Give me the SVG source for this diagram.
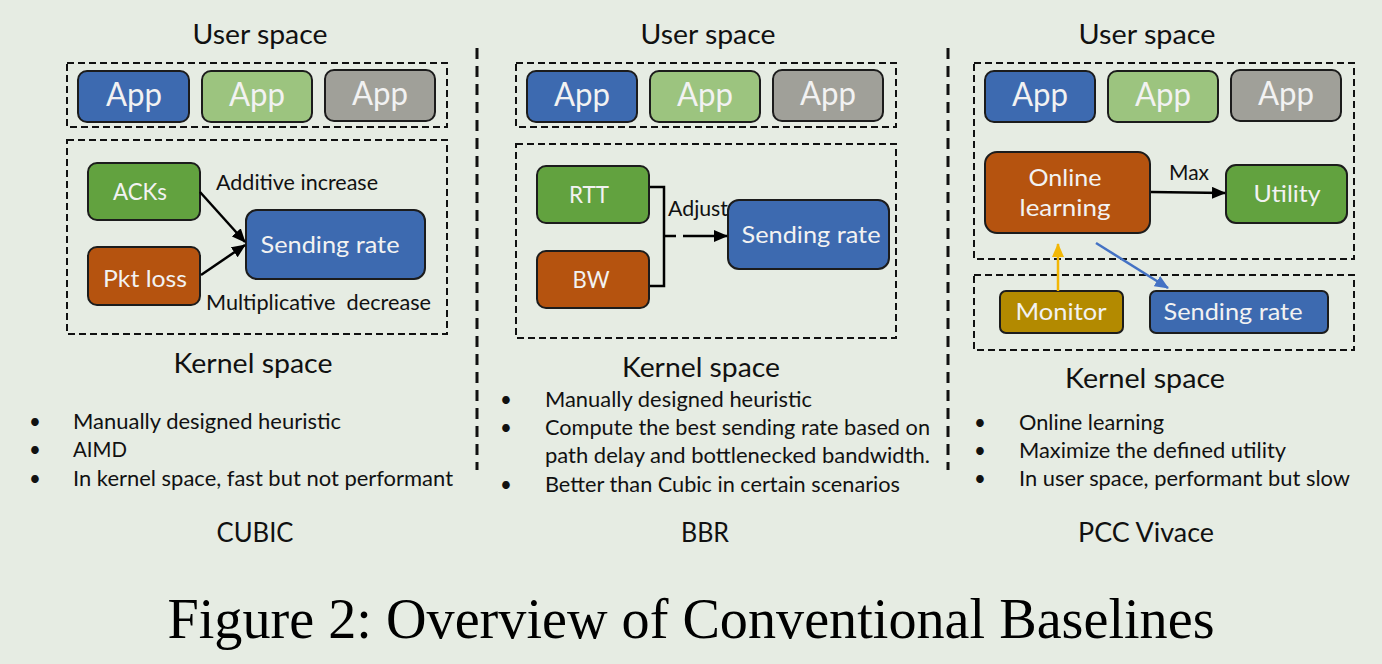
<svg xmlns="http://www.w3.org/2000/svg" width="1382" height="664" viewBox="0 0 1382 664">
<defs>
<style>
text{font-family:"Lato","Open Sans","Liberation Sans",sans-serif;}
.t{fill:#111;font-size:20.5px;}
.h{fill:#111;font-size:26px;text-anchor:middle;}
.n{fill:#f2f2f2;font-size:24px;text-anchor:middle;}
.app{fill:#f2f2f2;font-size:32px;text-anchor:middle;}
.box{stroke:#1c1c1c;stroke-width:2;}
.dash{fill:none;stroke:#111;stroke-width:2;stroke-dasharray:7,4;}
.div{fill:none;stroke:#111;stroke-width:3;stroke-dasharray:11,7;}
.blue{fill:#3D6AB0;}
.green{fill:#62A23F;}
.lgreen{fill:#9CC47F;}
.gray{fill:#A0A099;}
.orange{fill:#B5530F;}
.gold{fill:#B38A00;}
.arr{fill:none;stroke:#000;stroke-width:2.5;}
</style>
<marker id="ak" markerUnits="userSpaceOnUse" markerWidth="14" markerHeight="12" refX="13" refY="6" orient="auto"><path d="M0,0 L14,6 L0,12 z" fill="#000"/></marker>
<marker id="ay" markerUnits="userSpaceOnUse" markerWidth="14" markerHeight="12" refX="13" refY="6" orient="auto"><path d="M0,0 L14,6 L0,12 z" fill="#F2B705"/></marker>
<marker id="ab" markerUnits="userSpaceOnUse" markerWidth="14" markerHeight="12" refX="13" refY="6" orient="auto"><path d="M0,0 L14,6 L0,12 z" fill="#4472C4"/></marker>
</defs>
<rect width="1382" height="664" fill="#E6ECE3"/>

<g id="dividers">
<line class="div" x1="477" y1="48" x2="477" y2="470"/>
<line class="div" x1="948" y1="48" x2="948" y2="470"/>
</g>

<!-- CUBIC -->
<g id="cubic-frames">
<text class="h" x="260" y="44" textLength="135" lengthAdjust="spacingAndGlyphs">User space</text>
<rect class="dash" x="67" y="63" width="380" height="64"/>
<rect class="dash" x="67" y="140" width="380" height="194"/>
<text class="h" x="253" y="373" textLength="159" lengthAdjust="spacingAndGlyphs">Kernel space</text>
</g>
<g id="cubic-app1"><rect class="box blue" x="78" y="71" width="111" height="51" rx="9"/><text class="app" x="134" y="106" textLength="56" lengthAdjust="spacingAndGlyphs">App</text></g>
<g id="cubic-app2"><rect class="box lgreen" x="202" y="71" width="110" height="51" rx="9"/><text class="app" x="257" y="106" textLength="56" lengthAdjust="spacingAndGlyphs">App</text></g>
<g id="cubic-app3"><rect class="box gray" x="325" y="70" width="110" height="51" rx="9"/><text class="app" x="380" y="105" textLength="56" lengthAdjust="spacingAndGlyphs">App</text></g>
<g id="cubic-acks"><rect class="box green" x="88" y="163" width="112" height="57" rx="9"/><text class="n" x="140" y="200" textLength="54" lengthAdjust="spacingAndGlyphs">ACKs</text></g>
<g id="cubic-pktloss"><rect class="box orange" x="88" y="247" width="112" height="58" rx="9"/><text class="n" x="145" y="287" textLength="84" lengthAdjust="spacingAndGlyphs">Pkt loss</text></g>
<g id="cubic-rate"><rect class="box blue" x="246" y="210" width="179" height="69" rx="11"/><text class="n" x="330" y="253" textLength="139" lengthAdjust="spacingAndGlyphs">Sending rate</text></g>
<g id="cubic-connectors">
<line class="arr" x1="200" y1="192" x2="245" y2="242" marker-end="url(#ak)"/>
<line class="arr" x1="201" y1="275" x2="245" y2="245" marker-end="url(#ak)"/>
<text class="t" x="216" y="190" textLength="162" lengthAdjust="spacingAndGlyphs">Additive increase</text>
<text class="t" x="206" y="310" style="white-space:pre" textLength="225" lengthAdjust="spacingAndGlyphs">Multiplicative  decrease</text>
</g>
<g id="cubic-notes">
<text class="t" x="29" y="429">•</text><text class="t" x="73" y="429" textLength="268" lengthAdjust="spacingAndGlyphs">Manually designed heuristic</text>
<text class="t" x="29" y="457">•</text><text class="t" x="73" y="457" textLength="54" lengthAdjust="spacingAndGlyphs">AIMD</text>
<text class="t" x="29" y="486">•</text><text class="t" x="73" y="486" textLength="380" lengthAdjust="spacingAndGlyphs">In kernel space, fast but not performant</text>
<text class="h" x="255" y="542" textLength="77" lengthAdjust="spacingAndGlyphs">CUBIC</text>
</g>

<!-- BBR -->
<g id="bbr-frames">
<text class="h" x="708" y="44" textLength="135" lengthAdjust="spacingAndGlyphs">User space</text>
<rect class="dash" x="516" y="63" width="380" height="64"/>
<rect class="dash" x="516" y="144" width="380" height="194"/>
<text class="h" x="701" y="377" textLength="158" lengthAdjust="spacingAndGlyphs">Kernel space</text>
</g>
<g id="bbr-app1"><rect class="box blue" x="527" y="71" width="110" height="51" rx="9"/><text class="app" x="582" y="106" textLength="56" lengthAdjust="spacingAndGlyphs">App</text></g>
<g id="bbr-app2"><rect class="box lgreen" x="650" y="71" width="110" height="51" rx="9"/><text class="app" x="705" y="106" textLength="56" lengthAdjust="spacingAndGlyphs">App</text></g>
<g id="bbr-app3"><rect class="box gray" x="773" y="70" width="110" height="51" rx="9"/><text class="app" x="828" y="105" textLength="56" lengthAdjust="spacingAndGlyphs">App</text></g>
<g id="bbr-rtt"><rect class="box green" x="537" y="166" width="112" height="57" rx="9"/><text class="n" x="589" y="203" textLength="40" lengthAdjust="spacingAndGlyphs">RTT</text></g>
<g id="bbr-bw"><rect class="box orange" x="537" y="251" width="112" height="57" rx="9"/><text class="n" x="591" y="288" textLength="37" lengthAdjust="spacingAndGlyphs">BW</text></g>
<g id="bbr-rate"><rect class="box blue" x="728" y="200" width="161" height="69" rx="11"/><text class="n" x="811" y="243" textLength="139" lengthAdjust="spacingAndGlyphs">Sending rate</text></g>
<g id="bbr-connectors">
<path class="arr" d="M650,187 H664 V286 H650 M664,236 H676"/>
<line class="arr" x1="683" y1="236" x2="727" y2="236" marker-end="url(#ak)"/>
<text class="t" x="668" y="216" textLength="60" lengthAdjust="spacingAndGlyphs">Adjust</text>
</g>
<g id="bbr-notes">
<text class="t" x="500" y="407">•</text><text class="t" x="545" y="407" textLength="267" lengthAdjust="spacingAndGlyphs">Manually designed heuristic</text>
<text class="t" x="500" y="435">•</text><text class="t" x="545" y="435" textLength="385" lengthAdjust="spacingAndGlyphs">Compute the best sending rate based on</text>
<text class="t" x="545" y="463" textLength="385" lengthAdjust="spacingAndGlyphs">path delay and bottlenecked bandwidth.</text>
<text class="t" x="500" y="492">•</text><text class="t" x="545" y="492" textLength="355" lengthAdjust="spacingAndGlyphs">Better than Cubic in certain scenarios</text>
<text class="h" x="705" y="542" textLength="48" lengthAdjust="spacingAndGlyphs">BBR</text>
</g>

<!-- PCC Vivace -->
<g id="pcc-frames">
<text class="h" x="1147" y="44" textLength="137" lengthAdjust="spacingAndGlyphs">User space</text>
<rect class="dash" x="974" y="63" width="380" height="196"/>
<rect class="dash" x="974" y="275" width="380" height="75"/>
<text class="h" x="1145" y="388" textLength="160" lengthAdjust="spacingAndGlyphs">Kernel space</text>
</g>
<g id="pcc-app1"><rect class="box blue" x="985" y="71" width="110" height="51" rx="9"/><text class="app" x="1040" y="106" textLength="56" lengthAdjust="spacingAndGlyphs">App</text></g>
<g id="pcc-app2"><rect class="box lgreen" x="1108" y="71" width="110" height="51" rx="9"/><text class="app" x="1163" y="106" textLength="56" lengthAdjust="spacingAndGlyphs">App</text></g>
<g id="pcc-app3"><rect class="box gray" x="1231" y="70" width="110" height="51" rx="9"/><text class="app" x="1286" y="105" textLength="56" lengthAdjust="spacingAndGlyphs">App</text></g>
<g id="pcc-online"><rect class="box orange" x="985" y="152" width="165" height="81" rx="12"/><text class="n" x="1065" y="186" textLength="73" lengthAdjust="spacingAndGlyphs">Online</text><text class="n" x="1065" y="216" textLength="91" lengthAdjust="spacingAndGlyphs">learning</text></g>
<g id="pcc-utility"><rect class="box green" x="1226" y="165" width="121" height="58" rx="10"/><text class="n" x="1287" y="202" textLength="67" lengthAdjust="spacingAndGlyphs">Utility</text></g>
<g id="pcc-monitor"><rect class="box gold" x="1000" y="291" width="123" height="42" rx="6"/><text class="n" x="1061" y="320" textLength="91" lengthAdjust="spacingAndGlyphs">Monitor</text></g>
<g id="pcc-rate"><rect class="box blue" x="1150" y="291" width="178" height="42" rx="6"/><text class="n" x="1233" y="320" textLength="139" lengthAdjust="spacingAndGlyphs">Sending rate</text></g>
<g id="pcc-connectors">
<line class="arr" x1="1151" y1="192" x2="1225" y2="193" marker-end="url(#ak)"/>
<text class="t" x="1189" y="180" text-anchor="middle" textLength="40" lengthAdjust="spacingAndGlyphs">Max</text>
<line x1="1058" y1="291" x2="1058" y2="244" stroke="#F2B705" stroke-width="2.5" marker-end="url(#ay)"/>
<line x1="1096" y1="243" x2="1168" y2="288" stroke="#4472C4" stroke-width="2.5" marker-end="url(#ab)"/>
</g>
<g id="pcc-notes">
<text class="t" x="974" y="430">•</text><text class="t" x="1019" y="430" textLength="145" lengthAdjust="spacingAndGlyphs">Online learning</text>
<text class="t" x="974" y="458">•</text><text class="t" x="1019" y="458" textLength="267" lengthAdjust="spacingAndGlyphs">Maximize the defined utility</text>
<text class="t" x="974" y="486">•</text><text class="t" x="1019" y="486" textLength="331" lengthAdjust="spacingAndGlyphs">In user space, performant but slow</text>
<text class="h" x="1146" y="542" textLength="136" lengthAdjust="spacingAndGlyphs">PCC Vivace</text>
</g>

<text x="691" y="638" text-anchor="middle" style="font-family:'Liberation Serif','Times New Roman',serif;font-size:56px;fill:#000" textLength="1047" lengthAdjust="spacingAndGlyphs">Figure 2: Overview of Conventional Baselines</text>
</svg>
